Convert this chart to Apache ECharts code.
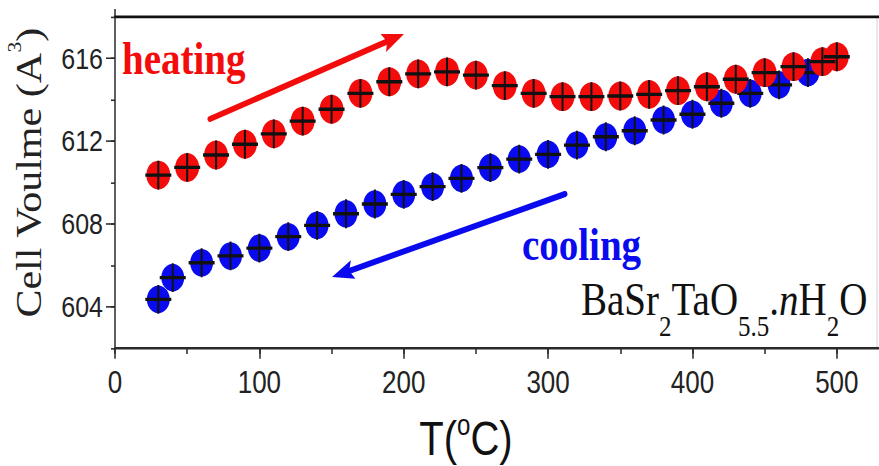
<!DOCTYPE html>
<html>
<head>
<meta charset="utf-8">
<script src="https://cdn.jsdelivr.net/npm/echarts@6/dist/echarts.min.js"></script>
<style>
  html, body { margin: 0; padding: 0; background: #fff; overflow: hidden; }
  #wrap { width: 879px; height: 466px; overflow: hidden; }
  /* the plot is laid out on a 879x388 surface and stretched vertically */
  #chart { width: 879px; height: 388px; transform: scaleY(1.201031); transform-origin: 0 0; }
</style>
</head>
<body>
<div id="wrap"><div id="chart"></div></div>
<script>
// Heating run: temperature (°C) and cell volume (A^3)
const heatT = [30, 50, 70, 90, 110, 130, 150, 170, 190, 210, 230, 250, 270, 290, 310, 330, 350, 370, 390, 410, 430, 450, 470, 490, 500];
const heatV = [610.36, 610.73, 611.33, 611.85, 612.35, 612.97, 613.54, 614.31, 614.87, 615.25, 615.35, 615.19, 614.68, 614.31, 614.15, 614.15, 614.18, 614.26, 614.44, 614.63, 614.99, 615.31, 615.60, 615.84, 616.08];

// Cooling run
const coolT = [30, 40, 60, 80, 100, 120, 140, 160, 180, 200, 220, 240, 260, 280, 300, 320, 340, 360, 380, 400, 420, 440, 460, 480];
const coolV = [604.35, 605.40, 606.12, 606.45, 606.83, 607.38, 607.93, 608.49, 608.96, 609.43, 609.80, 610.20, 610.72, 611.13, 611.36, 611.81, 612.21, 612.50, 613.02, 613.30, 613.83, 614.31, 614.72, 615.31];

// Tick positions of the two axes (labels shown on the major ones)
const xTickLabels = ['0', '50', '100', '150', '200', '250', '300', '350', '400', '450', '500', '550'];
const yTickLabels = ['602', '604', '606', '608', '610', '612', '614', '616', '618'];

const S = 466 / 388;               // vertical stretch applied by CSS
const SANS = '"Liberation Sans", Arial, sans-serif';
const SERIF = '"Liberation Serif", "Times New Roman", serif';
const AX = '#2a2a2a';

const heatData = heatT.map((t, i) => [t, heatV[i]]);
const coolData = coolT.map((t, i) => [t, coolV[i]]);

// error-bar cross drawn over every point
const CROSS = 'path://M0,11.5H26V14.5H0Z M12,0H14V26H12Z';

const isMajorX = (i, v) => (+v) % 100 === 0;
const isMajorY = (i, v) => (+v) % 4 === 0;

function arrow(x1, y1, x2, y2, color, w, hl, hw) {
  const dx = x2 - x1, dy = y2 - y1, L = Math.hypot(dx, dy);
  const ux = dx / L, uy = dy / L, nx = -uy, ny = ux;
  const bx = x2 - ux * hl, by = y2 - uy * hl;
  return [
    { type: 'line', silent: true,
      shape: { x1: x1, y1: y1, x2: bx + ux * 3, y2: by + uy * 3 },
      style: { stroke: color, lineWidth: w, lineCap: 'round' } },
    { type: 'polygon', silent: true,
      shape: { points: [[x2, y2], [bx + nx * hw, by + ny * hw], [bx + ux * 4, by + uy * 4], [bx - nx * hw, by - ny * hw]] },
      style: { fill: color } }
  ];
}

const RED = '#f20c0c';
const BLUE = '#0a0aee';

const chart = echarts.init(document.getElementById('chart'), null, { renderer: 'svg' });

const option = {
  animation: false,
  backgroundColor: '#fff',
  grid: { left: 115, right: -30, top: 17 / S, height: (348 - 17) / S, outerBoundsMode: 'none', containLabel: false },
  xAxis: [
    {
      type: 'value', min: 0, max: 550, interval: 50, position: 'bottom',
      axisLine: { show: true, onZero: false, lineStyle: { color: AX, width: 2 } },
      axisTick: { show: true, length: 5, lineStyle: { color: AX, width: 1.5 } },
      axisLabel: { show: false }, splitLine: { show: false }
    },
    {
      type: 'category', data: xTickLabels, boundaryGap: false, position: 'bottom',
      axisLine: { show: false, onZero: false },
      axisTick: { show: true, length: 9, interval: isMajorX, lineStyle: { color: AX, width: 1.5 } },
      axisLabel: { interval: isMajorX, margin: 15, fontFamily: SANS, fontSize: 26, color: '#222' },
      splitLine: { show: false },
      name: '{a|T(}{s|o}{a|C)}', nameLocation: 'middle', nameGap: 52,
      nameTextStyle: {
        padding: [0, 92, 0, 0],
        rich: {
          a: { fontFamily: SANS, fontSize: 40, color: '#111', lineHeight: 46, verticalAlign: 'middle' },
          s: { fontFamily: SANS, fontSize: 24, color: '#111', lineHeight: 24, verticalAlign: 'top' }
        }
      }
    },
    {
      type: 'value', min: 0, max: 550, position: 'top',
      axisLine: { show: true, onZero: false, lineStyle: { color: '#111', width: 2.2 } },
      axisTick: { show: false }, axisLabel: { show: false }, splitLine: { show: false }
    }
  ],
  yAxis: [
    {
      type: 'value', min: 602, max: 618, interval: 2, position: 'left',
      axisLine: { show: true, onZero: false, lineStyle: { color: AX, width: 1.5 } },
      axisTick: { show: true, length: 4, lineStyle: { color: AX, width: 1.3 } },
      axisLabel: { show: false }, splitLine: { show: false },
      name: '{n|Cell Voulme (A}{s|3}{n|)}', nameLocation: 'middle', nameGap: 63,
      nameTextStyle: {
        padding: [0, 0, 0, 16],
        rich: {
          n: { fontFamily: SERIF, fontSize: 35, color: '#222', lineHeight: 46, verticalAlign: 'middle' },
          s: { fontFamily: SERIF, fontSize: 18, color: '#222', lineHeight: 18, verticalAlign: 'top' }
        }
      }
    },
    {
      type: 'category', data: yTickLabels, boundaryGap: false, position: 'left',
      axisLine: { show: false, onZero: false },
      axisTick: { show: true, length: 9, interval: isMajorY, lineStyle: { color: AX, width: 1.3 } },
      axisLabel: { interval: isMajorY, margin: 12, fontFamily: SANS, fontSize: 25, color: '#222' },
      splitLine: { show: false }
    }
  ],
  series: [
    { name: 'cooling', type: 'scatter', xAxisIndex: 0, yAxisIndex: 0, data: coolData,
      symbol: 'circle', symbolSize: 23, itemStyle: { color: BLUE, opacity: 1 }, z: 3 },
    { name: 'cooling-err', type: 'scatter', xAxisIndex: 0, yAxisIndex: 0, data: coolData,
      symbol: CROSS, symbolSize: [26, 24], itemStyle: { color: '#111', opacity: 1 }, z: 3 },
    { name: 'heating', type: 'scatter', xAxisIndex: 0, yAxisIndex: 0, data: heatData,
      symbol: 'circle', symbolSize: 24, itemStyle: { color: RED, opacity: 1 }, z: 3 },
    { name: 'heating-err', type: 'scatter', xAxisIndex: 0, yAxisIndex: 0, data: heatData,
      symbol: CROSS, symbolSize: [26, 24], itemStyle: { color: '#111', opacity: 1 }, z: 3 }
  ],
  graphic: [
    // faint frame edge on the right
    { type: 'line', silent: true, shape: { x1: 877, y1: 17 / S, x2: 877, y2: 348 / S },
      style: { stroke: '#d4d4d4', lineWidth: 1 } },
    // left spine runs a little past the top rule
    { type: 'line', silent: true, shape: { x1: 115, y1: 9 / S, x2: 115, y2: 18 / S },
      style: { stroke: AX, lineWidth: 1.5 } },
    ...arrow(210, 119 / S, 404, 34 / S, RED, 5, 22, 8),
    ...arrow(565, 194 / S, 332, 277 / S, BLUE, 5, 22, 8),
    { type: 'text', silent: true, x: 122, y: 29,
      style: { text: 'heating', font: 'bold 39px ' + SERIF, fill: RED, align: 'left', verticalAlign: 'top' } },
    { type: 'text', silent: true, x: 522, y: 184,
      style: { text: 'cooling', font: 'bold 39px ' + SERIF, fill: BLUE, align: 'left', verticalAlign: 'top' } },
    { type: 'text', silent: true, x: 581, y: 315 / S - 12.9 - 34,
      style: {
        text: '{m|BaSr}{s|2}{m|TaO}{s|5.5}{m|.}{i|n}{m|H}{s|2}{m|O}',
        align: 'left', verticalAlign: 'top',
        rich: {
          m: { fontFamily: SERIF, fontSize: 39, fill: '#111', lineHeight: 68, verticalAlign: 'middle' },
          i: { fontFamily: SERIF, fontStyle: 'italic', fontSize: 39, fill: '#111', lineHeight: 68, verticalAlign: 'middle' },
          s: { fontFamily: SERIF, fontSize: 25, fill: '#111', lineHeight: 25, verticalAlign: 'bottom' }
        }
      } }
  ]
};

chart.setOption(option);
</script>
</body>
</html>
